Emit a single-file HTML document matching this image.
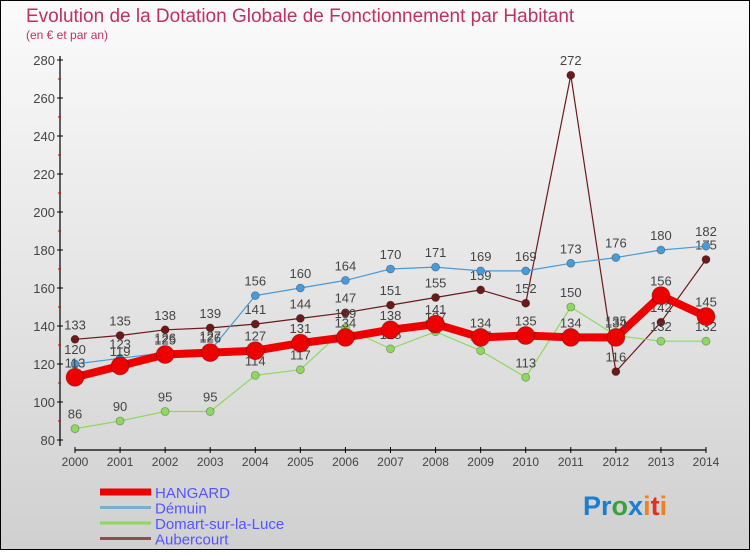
<!DOCTYPE html>
<html><head><meta charset="utf-8"><style>
html,body{margin:0;padding:0}
body{width:750px;height:550px;overflow:hidden;font-family:"Liberation Sans",sans-serif}
</style></head><body>
<svg width="750" height="550" xmlns="http://www.w3.org/2000/svg">
<defs><linearGradient id="bg" x1="0" y1="0" x2="0" y2="1"><stop offset="0" stop-color="#fbfbfb"/><stop offset="1" stop-color="#d0d0d0"/></linearGradient></defs>
<rect x="0.5" y="0.5" width="749" height="549" fill="url(#bg)" stroke="#000"/>
<text x="26" y="22" font-size="19" fill="#c03060">Evolution de la Dotation Globale de Fonctionnement par Habitant</text>
<text x="26" y="39" font-size="12" fill="#c03060">(en € et par an)</text>
<g id="axes"></g>
<g id="series"></g>
<g id="legend"></g>
<text x="583" y="515" font-size="27" font-weight="bold"><tspan fill="#1a7fd0">Pr</tspan><tspan fill="#3aa040">o</tspan><tspan fill="#1a7fd0">x</tspan><tspan fill="#f08020">i</tspan><tspan fill="#e03020">t</tspan><tspan fill="#f08020">i</tspan></text>
</svg>
<script>
const years=[2000,2001,2002,2003,2004,2005,2006,2007,2008,2009,2010,2011,2012,2013,2014];
const hangard=[113,119,125,126,127,131,134,138,141,134,135,134,134,156,145];
const demuin=[120,123,126,127,156,160,164,170,171,169,169,173,176,180,182];
const domart=[86,90,95,95,114,117,139,128,137,127,113,150,135,132,132];
const aubercourt=[133,135,138,139,141,144,147,151,155,159,152,272,116,142,175];
const yTicks=[80,100,120,140,160,180,200,220,240,260,280];
const NS='http://www.w3.org/2000/svg';
const X=i=>75+i*(706-75)/(years.length-1);
const Y=v=>440-(v-80)*1.9;
function mk(tag,attrs,parent,txt){const e=document.createElementNS(NS,tag);for(const k in attrs)e.setAttribute(k,attrs[k]);if(txt!==undefined)e.textContent=txt;parent.appendChild(e);return e;}
const axes=document.getElementById('axes');
let ya=mk('line',{x1:60,y1:56,x2:60,y2:446,stroke:'#000','stroke-width':1.2},axes);


yTicks.forEach((t,i)=>{
  mk('line',{x1:57,x2:63,y1:Y(t),y2:Y(t),stroke:'#000'},axes);
  if(i<yTicks.length-1) mk('line',{x1:58,x2:61,y1:Y(t+10),y2:Y(t+10),stroke:'#d00'},axes);
  let l=mk('text',{x:55,y:Y(t)+5,'font-size':13,fill:'#444','text-anchor':'end'},axes,t);
  
  
});
let xa=mk('line',{x1:75,y1:450,x2:706,y2:450,stroke:'#000','stroke-width':1.2},axes);


years.forEach((y,i)=>{
  mk('line',{x1:X(i),x2:X(i),y1:447,y2:453,stroke:'#000'},axes);
  let l=mk('text',{x:X(i),y:466,'font-size':12,fill:'#444','text-anchor':'middle'},axes,y);
  
  
});
const series=[
 {name:'aubercourt',data:aubercourt,color:'#6b1a1a',w:1.2,r:4},
 {name:'domart',data:domart,color:'#8fd860',w:1.2,r:4},
 {name:'demuin',data:demuin,color:'#4a9ad6',w:1.2,r:4},
 {name:'hangard',data:hangard,color:'#ee0000',w:8,r:9}
];
const sg=document.getElementById('series');
series.forEach(s=>{
  const g=mk('g',{},sg);
  
  
  const pl=mk('polyline',{points:s.data.map((v,i)=>X(i)+','+Y(v)).join(' '),fill:'none',stroke:s.color,'stroke-width':s.w,'stroke-linejoin':'round'},g);
  
  
  s.data.forEach((v,i)=>{
    const c=mk('circle',{cx:X(i),cy:Y(v),r:s.r,fill:s.color,stroke:'rgba(0,0,0,0.3)','stroke-width':0.8},g);
    
    
    const t=mk('text',{x:X(i),y:Y(v)-10,'font-size':13,fill:'#444','text-anchor':'middle'},g,v);
    
    
  });
});
const lg=document.getElementById('legend');
const leg=[['HANGARD','#ee0000',7],['Démuin','#7aaed0',3],['Domart-sur-la-Luce','#8fd860',3],['Aubercourt','#8a5050',3]];
leg.forEach((e,i)=>{
  const y=492+i*15.5;
  const g=mk('g',{},lg);
  
  
  mk('line',{x1:100,x2:151,y1:y,y2:y,stroke:e[1],'stroke-width':e[2]},g);
  mk('text',{x:155,y:y+6,'font-size':15,fill:'#5555ff'},g,e[0]);
});
</script>
</body></html>
